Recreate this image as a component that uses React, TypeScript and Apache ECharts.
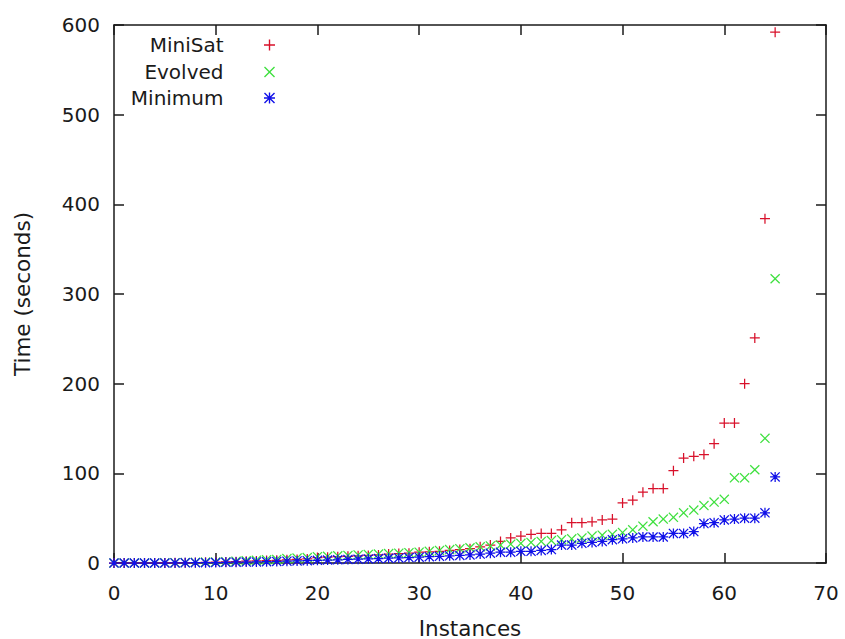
import React, { useEffect, useRef } from "react";
import * as echarts from "echarts";

const seriesNames = ["MiniSat", "Evolved", "Minimum"];

const minisat = [
  0, 0, 0, 0, 0, 0.1, 0.2, 0.3, 0.5, 0.7,
  1, 1.2, 1.5, 2, 2.3, 2.7, 3, 3.5, 4, 4.5,
  6, 6.5, 7, 7.5, 8, 8.5, 9, 10, 10.5, 11,
  12, 12.5, 13, 14, 15, 16, 18, 20, 24, 28,
  30, 32, 33, 33, 37, 45, 45, 46, 48, 49,
  67, 70, 79, 83, 83, 103, 117, 119, 121, 133,
  156, 156, 200, 251, 384, 592,
];

const evolved = [
  0, 0, 0, 0, 0.1, 0.2, 0.3, 0.5, 0.7, 1,
  1.2, 1.5, 2, 2.5, 3, 3.5, 4, 5, 5.5, 6,
  7, 7.5, 8, 8.5, 9, 9.5, 10, 10.5, 11, 11.5,
  12, 13, 14, 15, 16, 17, 18, 19, 20, 21,
  22, 23, 24, 25, 26, 27, 28, 30, 31, 32,
  34, 37, 41, 46, 49, 51, 56, 59, 64, 68,
  71, 95, 95, 104, 139, 317,
];

const minimum = [
  0, 0, 0, 0, 0, 0, 0.1, 0.2, 0.3, 0.4,
  0.5, 0.7, 0.9, 1, 1.2, 1.5, 1.8, 2, 2.3, 2.6,
  3, 3.3, 3.6, 4, 4.3, 4.6, 5, 5.3, 5.6, 6,
  6.5, 7, 7.5, 8, 8.5, 9, 10, 11, 12, 12,
  13, 13, 14, 15, 20, 20, 22, 23, 24, 26,
  27, 28, 29, 29, 29, 33, 33, 35, 44, 45,
  48, 49, 50, 50, 56, 96,
];

const xTicks = { min: 0, max: 70, interval: 10 };
const yTicks = { min: 0, max: 600, interval: 100 };

const PLUS =
  "path://M5.25,0h1.5v5.25h5.25v1.5h-5.25v5.25h-1.5v-5.25h-5.25v-1.5h5.25z";
const CROSS =
  "path://M0,1.06L1.06,0L6,4.94L10.94,0L12,1.06L7.06,6L12,10.94L10.94,12L6,7.06L1.06,12L0,10.94L4.94,6Z";
const STAR =
  "path://M5.25,0h1.5v5.25h5.25v1.5h-5.25v5.25h-1.5v-5.25h-5.25v-1.5h5.25z" +
  "M0,1.06L1.06,0L6,4.94L10.94,0L12,1.06L7.06,6L12,10.94L10.94,12L6,7.06L1.06,12L0,10.94L4.94,6Z";

const colors = ["#d8102a", "#3fe03f", "#1010e8"];
const symbols = [PLUS, CROSS, STAR];
const values = [minisat, evolved, minimum];

const FONT = "DejaVu Sans";

export default function App() {
  const ref = useRef<HTMLDivElement>(null);

  useEffect(() => {
    if (!ref.current) return;
    const chart = echarts.init(ref.current, null, { renderer: "svg" });
    const axisLine = {
      show: true,
      onZero: false,
      lineStyle: { color: "#1a1a1a", width: 1.5 },
    };
    const axisTick = {
      show: true,
      inside: true,
      length: 10,
      lineStyle: { color: "#1a1a1a", width: 1.5 },
    };
    const labelStyle = { color: "#1a1a1a", fontFamily: FONT, fontSize: 20 };
    const nameStyle = { color: "#1a1a1a", fontFamily: FONT, fontSize: 21.5 };

    const legendTops = [35, 62, 88];

    chart.setOption({
      animation: false,
      backgroundColor: "#ffffff",
      grid: {
        left: 114,
        right: 19,
        top: 25,
        bottom: 76,
        containLabel: false,
        outerBoundsMode: "none",
      },
      legend: seriesNames.map((n, i) => ({
        data: [n],
        right: 570,
        top: legendTops[i],
        align: "right",
        itemWidth: 82,
        itemHeight: 11,
        padding: 0,
        textStyle: { ...labelStyle },
        selectedMode: false,
      })),
      xAxis: [
        {
          type: "value",
          min: xTicks.min,
          max: xTicks.max,
          interval: xTicks.interval,
          position: "bottom",
          name: "Instances",
          nameLocation: "middle",
          nameGap: 54,
          nameTextStyle: { ...nameStyle },
          axisLine,
          axisTick,
          axisLabel: { ...labelStyle, margin: 20 },
          splitLine: { show: false },
        },
        {
          type: "value",
          min: xTicks.min,
          max: xTicks.max,
          interval: xTicks.interval,
          position: "top",
          axisLine,
          axisTick,
          axisLabel: { show: false },
          splitLine: { show: false },
        },
      ],
      yAxis: [
        {
          type: "value",
          min: yTicks.min,
          max: yTicks.max,
          interval: yTicks.interval,
          position: "left",
          name: "Time (seconds)",
          nameLocation: "middle",
          nameGap: 81,
          nameTextStyle: { ...nameStyle },
          axisLine,
          axisTick,
          axisLabel: { ...labelStyle, margin: 14 },
          splitLine: { show: false },
        },
        {
          type: "value",
          min: yTicks.min,
          max: yTicks.max,
          interval: yTicks.interval,
          position: "right",
          axisLine,
          axisTick,
          axisLabel: { show: false },
          splitLine: { show: false },
        },
      ],
      series: seriesNames.map((n, i) => ({
        name: n,
        type: "scatter",
        xAxisIndex: 0,
        yAxisIndex: 0,
        symbol: symbols[i],
        symbolSize: 10,
        itemStyle: { color: colors[i], opacity: 1 },
        data: values[i].map((v, k) => [k, v]),
      })),
    });

    return () => chart.dispose();
  }, []);

  return (
    <div
      ref={ref}
      style={{ position: "fixed", left: 0, top: 0, width: 845, height: 639 }}
    />
  );
}
